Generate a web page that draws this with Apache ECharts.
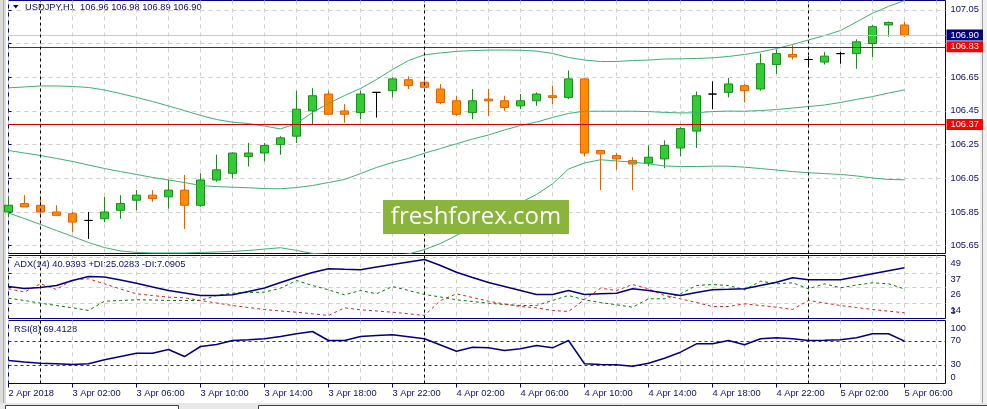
<!DOCTYPE html>
<html><head><meta charset="utf-8">
<script src="https://cdn.jsdelivr.net/npm/echarts@6/dist/echarts.min.js"></script>
<style>html,body{margin:0;padding:0;background:#fff;}#c{width:987px;height:409px;}</style>
</head><body><div id="c"></div>
<script>
// ---- data (hourly bars, 2 Apr 22:00 .. 5 Apr 06:00) ----
const timeLabels = ['2 Apr 2018','3 Apr 02:00','3 Apr 06:00','3 Apr 10:00','3 Apr 14:00','3 Apr 18:00','3 Apr 22:00','4 Apr 02:00','4 Apr 06:00','4 Apr 10:00','4 Apr 14:00','4 Apr 18:00','4 Apr 22:00','5 Apr 02:00','5 Apr 06:00'];
const dayStarts = [2, 26, 50];
const opens  = [105.85,105.90,105.89,105.85,105.84,105.80,105.81,105.86,105.92,105.95,105.94,105.98,105.89,106.04,106.08,106.18,106.20,106.25,106.30,106.45,106.55,106.45,106.44,106.56,106.57,106.635,106.62,106.58,106.51,106.44,106.52,106.51,106.48,106.51,106.54,106.53,106.64,106.215,106.185,106.155,106.14,106.165,106.23,106.33,106.55,106.56,106.60,106.58,106.725,106.785,106.755,106.74,106.79,106.79,106.85,106.96,106.96];
const closes = [105.89,105.88,105.85,105.83,105.79,105.80,105.85,105.90,105.95,105.93,105.98,105.89,106.04,106.10,106.20,106.20,106.245,106.29,106.46,106.54,106.43,106.43,106.55,106.56,106.64,106.60,106.59,106.50,106.43,106.51,106.51,106.47,106.51,106.55,106.53,106.64,106.20,106.195,106.165,106.135,106.175,106.245,106.345,106.54,106.55,106.61,106.57,106.73,106.79,106.77,106.755,106.775,106.79,106.86,106.95,106.975,106.90];
const highs  = [105.94,105.95,105.93,105.89,105.85,105.85,105.94,105.95,105.98,105.98,106.04,106.07,106.08,106.19,106.205,106.26,106.26,106.30,106.57,106.585,106.57,106.49,106.57,106.56,106.65,106.655,106.655,106.61,106.54,106.58,106.58,106.54,106.55,106.56,106.60,106.69,106.645,106.215,106.20,106.175,106.245,106.275,106.355,106.565,106.625,106.645,106.61,106.79,106.815,106.84,106.775,106.80,106.80,106.875,106.96,106.98,106.98];
const lows   = [105.82,105.88,105.82,105.83,105.73,105.69,105.79,105.81,105.86,105.91,105.87,105.75,105.88,106.03,106.05,106.12,106.15,106.19,106.26,106.37,106.43,106.38,106.40,106.41,106.53,106.58,106.59,106.49,106.42,106.40,106.42,106.45,106.46,106.48,106.49,106.52,106.18,105.98,106.10,105.98,106.12,106.11,106.18,106.23,106.46,106.53,106.50,106.57,106.67,106.755,106.715,106.725,106.73,106.70,106.77,106.89,106.89];
const bbUpper = [106.587,106.592,106.598,106.598,106.595,106.589,106.574,106.553,106.530,106.506,106.479,106.452,106.423,106.399,106.383,106.375,106.360,106.343,106.375,106.441,106.494,106.541,106.583,106.636,106.696,106.749,106.783,106.794,106.803,106.808,106.811,106.811,106.810,106.805,106.791,106.767,106.752,106.743,106.743,106.749,106.752,106.758,106.759,106.761,106.765,106.773,106.785,106.800,106.820,106.844,106.871,106.897,106.927,106.978,107.030,107.070,107.105];
const bbMiddle = [106.215,106.200,106.185,106.168,106.150,106.129,106.108,106.090,106.073,106.055,106.040,106.025,106.007,106.001,105.997,105.994,105.989,105.988,105.995,106.007,106.025,106.043,106.078,106.114,106.144,106.168,106.199,106.227,106.255,106.283,106.307,106.337,106.363,106.384,106.411,106.435,106.448,106.448,106.448,106.448,106.446,106.441,106.438,106.439,106.446,106.449,106.448,106.452,106.458,106.467,106.476,106.485,106.500,106.518,106.535,106.556,106.575];
const bbLower = [105.844,105.811,105.776,105.740,105.705,105.669,105.639,105.619,105.610,105.607,105.607,105.607,105.610,105.613,105.616,105.622,105.630,105.638,105.622,105.604,105.598,105.592,105.586,105.586,105.592,105.601,105.627,105.663,105.711,105.758,105.800,105.859,105.906,105.954,106.017,106.105,106.141,106.160,106.153,106.146,106.136,106.123,106.120,106.120,106.122,106.122,106.116,106.108,106.099,106.090,106.083,106.078,106.073,106.064,106.052,106.043,106.041];
const adx = [26.87,25.36,26.12,27.62,31.38,34.39,34.02,31.76,29.35,26.49,23.86,21.98,20.10,20.10,20.62,23.11,25.74,29.88,33.87,37.40,40.19,39.81,39.44,41.54,43.42,45.30,47.19,42.67,37.63,33.64,29.88,26.87,23.86,20.85,20.85,23.86,20.85,21.38,21.83,25.14,23.86,21.98,20.10,22.35,24.39,24.76,25.14,27.62,30.10,33.42,31.91,31.91,31.91,34.17,36.43,38.68,40.94];
const plusDI = [18.07,16.34,14.30,12.57,10.84,8.81,15.81,16.34,16.86,16.71,16.34,16.34,16.34,20.10,21.83,22.35,22.58,25.59,31.38,27.62,24.39,20.62,23.86,21.38,26.87,23.86,20.85,18.97,16.86,15.58,14.30,13.33,12.57,12.57,16.34,20.10,16.86,14.83,13.10,11.29,17.61,17.61,21.38,27.62,28.37,27.62,24.39,30.86,28.90,29.65,25.14,28.90,25.89,28.00,29.65,28.90,25.03];
const minusDI = [25.14,22.73,28.90,24.61,31.91,32.66,28.90,24.99,21.38,20.10,18.82,18.37,16.34,14.45,12.57,11.07,9.56,8.43,7.53,6.33,5.05,10.84,9.34,8.43,7.53,6.33,5.05,16.34,21.38,18.59,15.81,13.70,11.82,10.84,8.81,8.06,17.09,25.59,23.86,28.37,25.14,20.10,17.61,14.83,11.82,11.82,13.85,12.57,11.29,9.56,16.34,14.45,12.57,11.07,9.56,8.28,7.09];
const rsi = [37.2,34.7,32.7,31.7,30.5,31.7,38.3,43.8,49.3,49.3,55.5,43.8,60.5,63.8,70.5,71.8,73.3,77.2,81.7,85.5,70.5,70.5,77.2,78.8,80.0,76.7,73.3,63.0,52.7,59.3,58.3,53.8,56.7,62.2,58.3,70.5,31.7,30.5,30.0,27.7,32.7,41.0,51.0,65.0,65.0,70.5,63.3,73.3,75.0,73.3,70.5,71.0,71.7,75.0,81.7,81.7,69.41];
const priceGrid = [105.65,105.85,106.05,106.25,106.45,106.65,106.85,107.05];
const priceLabels = [105.65,105.85,106.05,106.25,106.45,106.65,107.05];
const adxLabels = [49,37,26,14];
const adxMinLabel = '3';
const rsiLabels = [0,30,70,100];
const rsiLevels = [30,70];
const bidPrice = 106.90;
const redLevels = [106.83,106.37];

// ---- layout ----
const FONT = 'Liberation Sans';
const FS = 9.3;
const NAVY = '#000080';
const TXT = '#0c0c6a';
const X_MAX = 58.5625;
const gridXs = []; for (let v = 0; v <= 58; v += 2) gridXs.push(v);
const labelXs = timeLabels.map((_, k) => k * 4);
const fmtN = (v, d) => Number(v).toFixed(d);

const chart = echarts.init(document.getElementById('c'), null, {renderer: 'canvas', width: 987, height: 409});
const gridBase = {left: 8.5, width: 937, show: true, borderColor: NAVY, borderWidth: 1, backgroundColor: '#fff'};
const splitDash = {show: true, lineStyle: {color: '#cfcfcf', type: [4, 4], width: 1}};
function xAxisFor(g) {
  return {gridIndex: g, type: 'value', min: 0, max: X_MAX, axisLine: {show: false},
    axisTick: {show: false, customValues: gridXs}, axisLabel: {show: false}, splitLine: splitDash};
}
const daySepLines = dayStarts.map(d => ({xAxis: d, label: {show: false}, lineStyle: {color: '#000', type: [3, 3], width: 1}}));
const lblStyle = {color: TXT, fontSize: FS, fontFamily: FONT};

const option = {
  animation: false,
  backgroundColor: '#fff',
  textStyle: {fontFamily: FONT},
  grid: [
    Object.assign({top: 0.5, height: 253}, gridBase),
    Object.assign({top: 255.5, height: 63}, gridBase),
    Object.assign({top: 320.5, height: 63}, gridBase)
  ],
  xAxis: [
    xAxisFor(0), xAxisFor(1), xAxisFor(2),
    {gridIndex: 2, type: 'value', min: 0, max: X_MAX, position: 'bottom', axisLine: {show: false},
     axisTick: {show: true, length: 4, customValues: labelXs, lineStyle: {color: NAVY}},
     axisLabel: Object.assign({customValues: labelXs, align: 'left', margin: 5,
       formatter: v => timeLabels[Math.round(v / 4)] || ''}, lblStyle),
     splitLine: {show: false}}
  ],
  yAxis: [
    {gridIndex: 0, type: 'value', position: 'right', min: 105.6037, max: 107.1052, axisLine: {show: false},
     axisTick: {show: true, length: 3, customValues: priceGrid, lineStyle: {color: NAVY}},
     axisLabel: Object.assign({customValues: priceLabels, margin: 5, formatter: v => fmtN(v, 2)}, lblStyle),
     splitLine: splitDash},
    {gridIndex: 1, type: 'value', position: 'right', min: 2.79, max: 50.195, axisLine: {show: false},
     axisTick: {show: true, length: 3, customValues: adxLabels, lineStyle: {color: NAVY}},
     axisLabel: Object.assign({customValues: adxLabels, margin: 5, verticalAlign: 'top', padding: [2, 0, 0, 0],
       formatter: v => String(Math.round(v))}, lblStyle),
     splitLine: splitDash},
    {gridIndex: 2, type: 'value', position: 'right', min: -1.17, max: 103.83, axisLine: {show: false},
     axisTick: {show: false, customValues: rsiLevels},
     axisLabel: {customValues: rsiLabels, margin: 5, color: TXT, fontSize: FS, fontFamily: FONT,
       formatter: v => v >= 100 ? '{t|100}' : (v <= 0 ? '{b|0}' : String(Math.round(v))),
       rich: {t: {padding: [11, 0, 0, 0], color: TXT, fontSize: FS, fontFamily: FONT},
              b: {padding: [0, 0, 11, 0], color: TXT, fontSize: FS, fontFamily: FONT}}},
     splitLine: {show: true, lineStyle: {color: '#c00000', type: [3, 3], width: 1}}}
  ],
  series: [
    {type: 'line', xAxisIndex: 0, yAxisIndex: 0, showSymbol: false, symbol: 'none', silent: true,
     data: bbUpper.map((v, i) => [i, v]), lineStyle: {color: '#3cb371', width: 1}},
    {type: 'line', xAxisIndex: 0, yAxisIndex: 0, showSymbol: false, symbol: 'none', silent: true,
     data: bbMiddle.map((v, i) => [i, v]), lineStyle: {color: '#3cb371', width: 1}},
    {type: 'line', xAxisIndex: 0, yAxisIndex: 0, showSymbol: false, symbol: 'none', silent: true,
     data: bbLower.map((v, i) => [i, v]), lineStyle: {color: '#3cb371', width: 1}},
    {type: 'candlestick', xAxisIndex: 0, yAxisIndex: 0, barWidth: 9, clip: true,
     data: opens.map((o, i) => [i, o, closes[i], lows[i], highs[i]]),
     itemStyle: {color: '#32cd32', color0: '#ff8c00', borderColor: '#1f8a1f', borderColor0: '#e0600c',
                 borderColorDoji: '#000', borderWidth: 1},
     markLine: {symbol: 'none', silent: true, animation: false,
       data: [
         {yAxis: bidPrice, lineStyle: {color: '#c8c8c8', type: 'solid', width: 1},
          label: {show: true, position: 'end', distance: 1, formatter: fmtN(bidPrice, 2), color: '#fff',
                  backgroundColor: NAVY, padding: [1, 4, 0, 4], lineHeight: 10, fontSize: FS, fontFamily: FONT}}
       ].concat(redLevels.map(p => ({yAxis: p, lineStyle: {color: '#cc0000', type: 'solid', width: 1},
          label: {show: true, position: 'end', distance: 1, formatter: fmtN(p, 2), color: '#fff',
                  backgroundColor: '#ff0000', padding: [1, 4, 0, 4], lineHeight: 10, fontSize: FS, fontFamily: FONT}})))
         .concat(daySepLines)}},
    {type: 'line', xAxisIndex: 1, yAxisIndex: 1, showSymbol: false, symbol: 'none', silent: true,
     data: plusDI.map((v, i) => [i, v]), lineStyle: {color: '#008000', width: 1, type: [3, 3]}},
    {type: 'line', xAxisIndex: 1, yAxisIndex: 1, showSymbol: false, symbol: 'none', silent: true,
     data: minusDI.map((v, i) => [i, v]), lineStyle: {color: '#dd2222', width: 1, type: [3, 3]}},
    {type: 'line', xAxisIndex: 1, yAxisIndex: 1, showSymbol: false, symbol: 'none', silent: true,
     data: adx.map((v, i) => [i, v]), lineStyle: {color: NAVY, width: 1.5},
     markLine: {symbol: 'none', silent: true, animation: false, data: daySepLines}},
    {type: 'line', xAxisIndex: 2, yAxisIndex: 2, showSymbol: false, symbol: 'none', silent: true,
     data: rsi.map((v, i) => [i, v]), lineStyle: {color: NAVY, width: 1.5},
     markLine: {symbol: 'none', silent: true, animation: false, data: daySepLines}}
  ],
  graphic: [
    {type: 'rect', shape: {x: 0, y: 0, width: 6, height: 409}, style: {fill: '#dcdcdc'}, silent: true},
    {type: 'line', shape: {x1: 3.5, y1: 0, x2: 3.5, y2: 409}, style: {stroke: '#a8a8a8', lineWidth: 1}, silent: true},
    {type: 'rect', shape: {x: 980, y: 0, width: 7, height: 409}, style: {fill: '#f0f0f0'}, silent: true},
    {type: 'line', shape: {x1: 982.5, y1: 0, x2: 982.5, y2: 403}, style: {stroke: '#a0a0a0', lineWidth: 1}, silent: true},
    {type: 'polygon', shape: {points: [[13, 5], [18.5, 5], [15.75, 8.5]]}, style: {fill: NAVY}, silent: true},
    {type: 'text', x: 25, y: 7.5, style: {text: 'USDJPY,H1  ' + [opens[56], highs[56], lows[56], closes[56]].map(v => fmtN(v, 2)).join(' '),
      fill: TXT, fontSize: FS, fontFamily: FONT, verticalAlign: 'middle'}, silent: true},
    {type: 'text', x: 14, y: 264.7, style: {text: 'ADX(14) 40.9393 +DI:25.0283 -DI:7.0905',
      fill: TXT, fontSize: FS, fontFamily: FONT, verticalAlign: 'middle'}, silent: true},
    {type: 'text', x: 950.5, y: 311.5, style: {text: adxMinLabel,
      fill: TXT, fontSize: FS, fontFamily: FONT, verticalAlign: 'middle'}, silent: true},
    {type: 'text', x: 14, y: 329.7, style: {text: 'RSI(8) 69.4128',
      fill: TXT, fontSize: FS, fontFamily: FONT, verticalAlign: 'middle'}, silent: true},
    {type: 'rect', shape: {x: 383, y: 200, width: 186, height: 34}, style: {fill: '#8bb43c'}, z: 100, silent: true},
    {type: 'text', x: 476, y: 217.5, z: 101, style: {text: 'freshforex.com', fill: '#fff', fontSize: 24,
      fontFamily: 'Open Sans', align: 'center', verticalAlign: 'middle'}, silent: true},
    {type: 'rect', shape: {x: 0, y: 403, width: 987, height: 6}, style: {fill: '#e8e8e8'}, silent: true},
    {type: 'rect', shape: {x: 5.5, y: 405.5, width: 173, height: 6}, style: {fill: '#fff', stroke: '#404040', lineWidth: 1}, silent: true},
    {type: 'rect', shape: {x: 258.5, y: 405.5, width: 735, height: 6}, style: {fill: '#fff', stroke: '#404040', lineWidth: 1}, silent: true}
  ]
};
chart.setOption(option);
</script></body></html>
